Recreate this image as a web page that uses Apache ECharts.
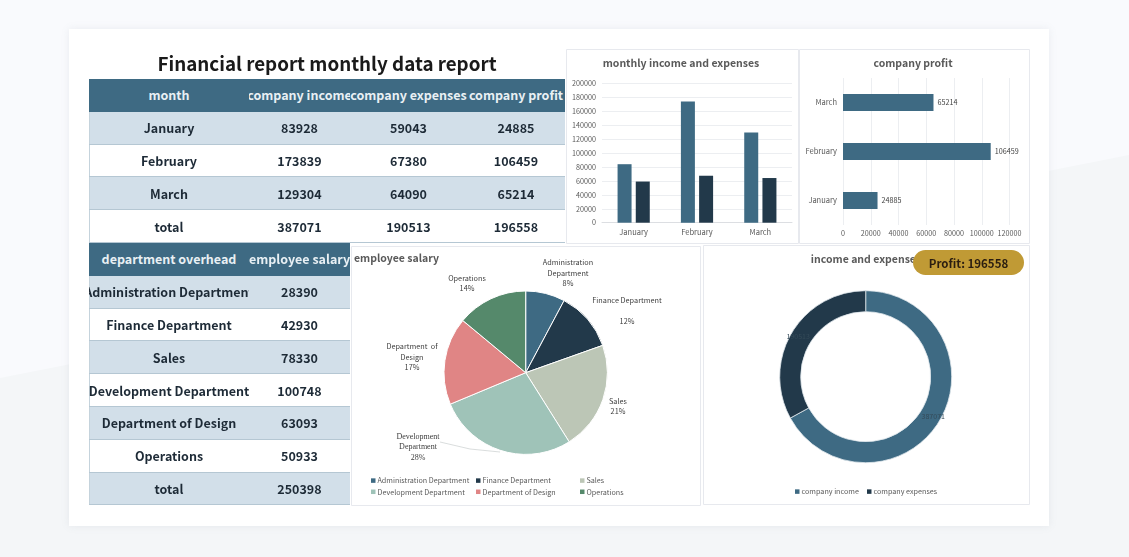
<!DOCTYPE html>
<html>
<head>
<meta charset="utf-8">
<script src="https://cdn.jsdelivr.net/npm/echarts@6/dist/echarts.min.js"></script>
<style>
    html, body { margin: 0; padding: 0; background: #f4f6f8; }
    #chart { position: absolute; left: 0; top: 0; width: 1129px; height: 557px; }
    table {
        position: absolute; border-collapse: collapse; table-layout: fixed;
        font-family: "Noto Sans CJK SC", "Noto Sans", sans-serif;
        font-size: 12.5px; font-weight: bold; color: #1d2a36;
    }
    td { padding: 0; height: 31.8px; border-bottom: 1px solid #b5c7d3; }
    td:first-child { box-shadow: inset 1px 0 0 #c5d3dc; }
    td div { display: flex; justify-content: center; overflow: hidden; white-space: nowrap; }
    tr.head td { background: #3e6a83; color: #e9f0f4; border-bottom: 1px solid #3e6a83; box-shadow: none; }
    tr.odd td { background: #d2dfe9; }
    tr.even td { background: #fff; }
</style>
</head>
<body>
<div id="chart"></div>
<table id="monthTable" style="left:89px;top:79px;width:476px"></table>
<table id="deptTable" style="left:89px;top:243px;width:261px"></table>
<script>
    var months = ['January', 'February', 'March'];
    var companyIncome = [83928, 173839, 129304];
    var companyExpenses = [59043, 67380, 64090];
    var companyProfit = [24885, 106459, 65214];
    var monthHeader = ['month', 'company income', 'company expenses', 'company profit'];
    var monthTotal = ['total', 387071, 190513, 196558];

    var departments = ['Administration Department', 'Finance Department', 'Sales', 'Development Department', 'Department of Design', 'Operations'];
    var employeeSalary = [28390, 42930, 78330, 100748, 63093, 50933];
    var deptHeader = ['department overhead', 'employee salary'];
    var deptTotal = ['total', 250398];

    var pieLabels = ['Administration\nDepartment', 'Finance Department\n', 'Sales', 'Development\nDepartment', 'Department  of\nDesign', 'Operations'];
    var pieColors = ['#3e6a83', '#22394a', '#bcc6b6', '#9fc3b8', '#e08585', '#55896b'];
    var donutNames = ['company income', 'company expenses'];
    var donutValues = [387071, 190513];

    var FONT = '"Noto Sans CJK SC", "Noto Sans", sans-serif';
    var BLUE = '#3e6a83', DARK = '#22394a', GREY = '#595959';

    // tables are plain html, cells clip their text on both sides
    function fillTable(id, widths, header, rows, total) {
        var html = '<colgroup>' + widths.map(function (w) { return '<col style="width:' + w + 'px">'; }).join('') + '</colgroup>';
        var all = [header].concat(rows, [total]);
        all.forEach(function (row, i) {
            var cls = i === 0 ? 'head' : (i % 2 ? 'odd' : 'even');
            html += '<tr class="' + cls + '">' + row.map(function (c) { return '<td><div><span>' + c + '</span></div></td>'; }).join('') + '</tr>';
        });
        document.getElementById(id).innerHTML = html;
    }
    fillTable('monthTable', [160, 101, 117, 98], monthHeader, months.map(function (m, i) {
        return [m, companyIncome[i], companyExpenses[i], companyProfit[i]];
    }), monthTotal);
    fillTable('deptTable', [160, 101], deptHeader, departments.map(function (d, i) {
        return [d, employeeSalary[i]];
    }), deptTotal);

    function panel(x, y, w, h) {
        return { type: 'rect', z: -1, shape: { x: x + 0.5, y: y + 0.5, width: w, height: h }, style: { fill: '#fff', stroke: '#e7e9ee', lineWidth: 1 } };
    }
    function panelTitle(text, left, top) {
        return { text: text, left: left, top: top, padding: 0, textAlign: 'center', textVerticalAlign: 'middle',
            textStyle: { fontFamily: FONT, fontSize: 10.5, fontWeight: 'bold', color: GREY } };
    }
    function pieLegend(names, left) {
        return { data: names, left: left, top: 477, padding: 0, orient: 'vertical', icon: 'rect', itemWidth: 4.5, itemHeight: 4.5, itemGap: 4,
            selectedMode: false, itemStyle: { borderWidth: 0 }, textStyle: { fontFamily: FONT, fontSize: 7.2, color: GREY, padding: [0, 0, 0, -3] } };
    }
    // no thousands separator on the ticks
    function plainTick(v) { return String(v); }

    // label centres inside the page, the pie's own outside placement does not land where the original has them
    var pieLabelSpots = [[568, 273], [627, 311], [618, 406], [418, 447], [412, 357], [467, 283]];

    var chart = echarts.init(document.getElementById('chart'), null, { renderer: 'canvas' });
    chart.setOption({
        animation: false,
        textStyle: { fontFamily: FONT },
        graphic: [
            { type: 'polygon', z: -3, shape: { points: [[0, 0], [1129, 0], [1129, 155], [0, 378]] }, style: { fill: '#f9fafd' } },
            { type: 'rect', z: -2, shape: { x: 69, y: 29, width: 980, height: 497 }, style: { fill: '#fff', shadowBlur: 8, shadowColor: 'rgba(120,130,150,0.12)' } },
            panel(566, 49, 232, 194),
            panel(799, 49, 230, 194),
            panel(351, 246, 349, 259),
            panel(703, 245, 326, 259),
            { type: 'rect', z: 100, zlevel: 1, shape: { x: 913, y: 250, width: 111, height: 25, r: 12.5 }, style: { fill: '#c09a35' } },
            { type: 'text', z: 101, zlevel: 1, x: 968.5, y: 263.5, style: { text: 'Profit: 196558', align: 'center', verticalAlign: 'middle', fontFamily: FONT, fontSize: 11.5, fontWeight: 'bold', fill: '#2a1d10' } }
        ],
        title: [
            { text: 'Financial report monthly data report', left: 327, top: 64, padding: 0, textAlign: 'center', textVerticalAlign: 'middle',
                textStyle: { fontFamily: FONT, fontSize: 18.8, fontWeight: 'bold', color: '#1a1a1a' } },
            panelTitle('monthly income and expenses', 681, 63),
            panelTitle('company profit', 913, 63),
            { text: 'employee salary', left: 354, top: 258, padding: 0, textVerticalAlign: 'middle',
                textStyle: { fontFamily: FONT, fontSize: 10.5, fontWeight: 'bold', color: GREY } },
            panelTitle('income and expenses', 866, 259)
        ],
        grid: [
            { left: 602, top: 83.3, width: 190, height: 139.4 },
            { left: 843, top: 78, width: 166.5, height: 147 }
        ],
        xAxis: [
            { type: 'category', gridIndex: 0, data: months, axisTick: { show: false },
                axisLine: { lineStyle: { color: '#dcdee2' } },
                axisLabel: { fontFamily: FONT, fontSize: 7.5, color: GREY, margin: 6 } },
            { type: 'value', gridIndex: 1, min: 0, max: 120000, interval: 20000, axisLine: { show: false }, axisTick: { show: false },
                splitLine: { lineStyle: { color: '#eceef1' } },
                axisLabel: { fontFamily: FONT, fontSize: 7.2, color: GREY, margin: 5, formatter: plainTick } }
        ],
        yAxis: [
            { type: 'value', gridIndex: 0, min: 0, max: 200000, interval: 20000, axisLine: { show: false }, axisTick: { show: false },
                splitLine: { lineStyle: { color: '#eceef1' } },
                axisLabel: { fontFamily: FONT, fontSize: 7.2, color: GREY, margin: 6, formatter: plainTick } },
            { type: 'category', gridIndex: 1, data: months, axisLine: { show: false }, axisTick: { show: false },
                axisLabel: { fontFamily: FONT, fontSize: 7.5, color: GREY, margin: 6 } }
        ],
        legend: [
            pieLegend([departments[0], departments[3]], 371),
            pieLegend([departments[1], departments[4]], 476),
            pieLegend([departments[2], departments[5]], 580),
            { data: donutNames, left: 795, top: 488, padding: 0, icon: 'rect', itemWidth: 4.5, itemHeight: 4.5, itemGap: 8, selectedMode: false,
                itemStyle: { borderWidth: 0 }, textStyle: { fontFamily: FONT, fontSize: 7.2, color: GREY, padding: [0, 0, 0, -3] } }
        ],
        series: [
            { type: 'bar', name: 'monthly income', xAxisIndex: 0, yAxisIndex: 0, data: companyIncome, barWidth: 14, barGap: '30%', itemStyle: { color: BLUE } },
            { type: 'bar', name: 'monthly expenses', xAxisIndex: 0, yAxisIndex: 0, data: companyExpenses, barWidth: 14, barGap: '30%', itemStyle: { color: DARK } },
            { type: 'bar', name: 'company profit', xAxisIndex: 1, yAxisIndex: 1, data: companyProfit, barWidth: 17, itemStyle: { color: BLUE },
                label: { show: true, position: 'right', distance: 4, fontFamily: FONT, fontSize: 7.2, color: '#404040' } },
            {
                type: 'pie', name: 'employee salary', center: [525.7, 372.7], radius: [0, 81.7], startAngle: 90,
                data: departments.map(function (d, i) {
                    var item = { name: d, value: employeeSalary[i], itemStyle: { color: pieColors[i] } };
                    if (i === 3) {
                        item.label = { fontFamily: '"Liberation Serif", serif', fontSize: 8 };
                        item.labelLine = { show: true, lineStyle: { color: '#cfd4d4', width: 0.8 } };
                    }
                    return item;
                }),
                itemStyle: { borderColor: '#fff', borderWidth: 1 },
                label: {
                    position: 'outside', fontFamily: FONT, fontSize: 7.3, lineHeight: 10.5, color: '#404040', align: 'center',
                    formatter: function (p) { return pieLabels[p.dataIndex] + '\n' + Math.round(p.percent) + '%'; }
                },
                labelLine: { show: false },
                labelLayout: function (p) {
                    var spot = pieLabelSpots[p.dataIndex];
                    var out = { x: spot[0], y: spot[1], align: 'center', verticalAlign: 'middle' };
                    if (p.dataIndex === 3) out.labelLinePoints = [[440, 442], [470, 449], [500, 452]];
                    return out;
                }
            },
            {
                type: 'pie', name: 'income and expenses', center: [865.7, 376.7], radius: [65, 86], startAngle: 90,
                data: donutNames.map(function (n, i) {
                    return { name: n, value: donutValues[i], itemStyle: { color: i === 0 ? BLUE : DARK } };
                }),
                itemStyle: { borderColor: '#dfe7ec', borderWidth: 0.8 },
                label: { position: 'inside', fontFamily: FONT, fontSize: 7, color: '#344a58', formatter: '{c}' },
                labelLine: { show: false }
            }
        ]
    });
</script>
</body>
</html>
